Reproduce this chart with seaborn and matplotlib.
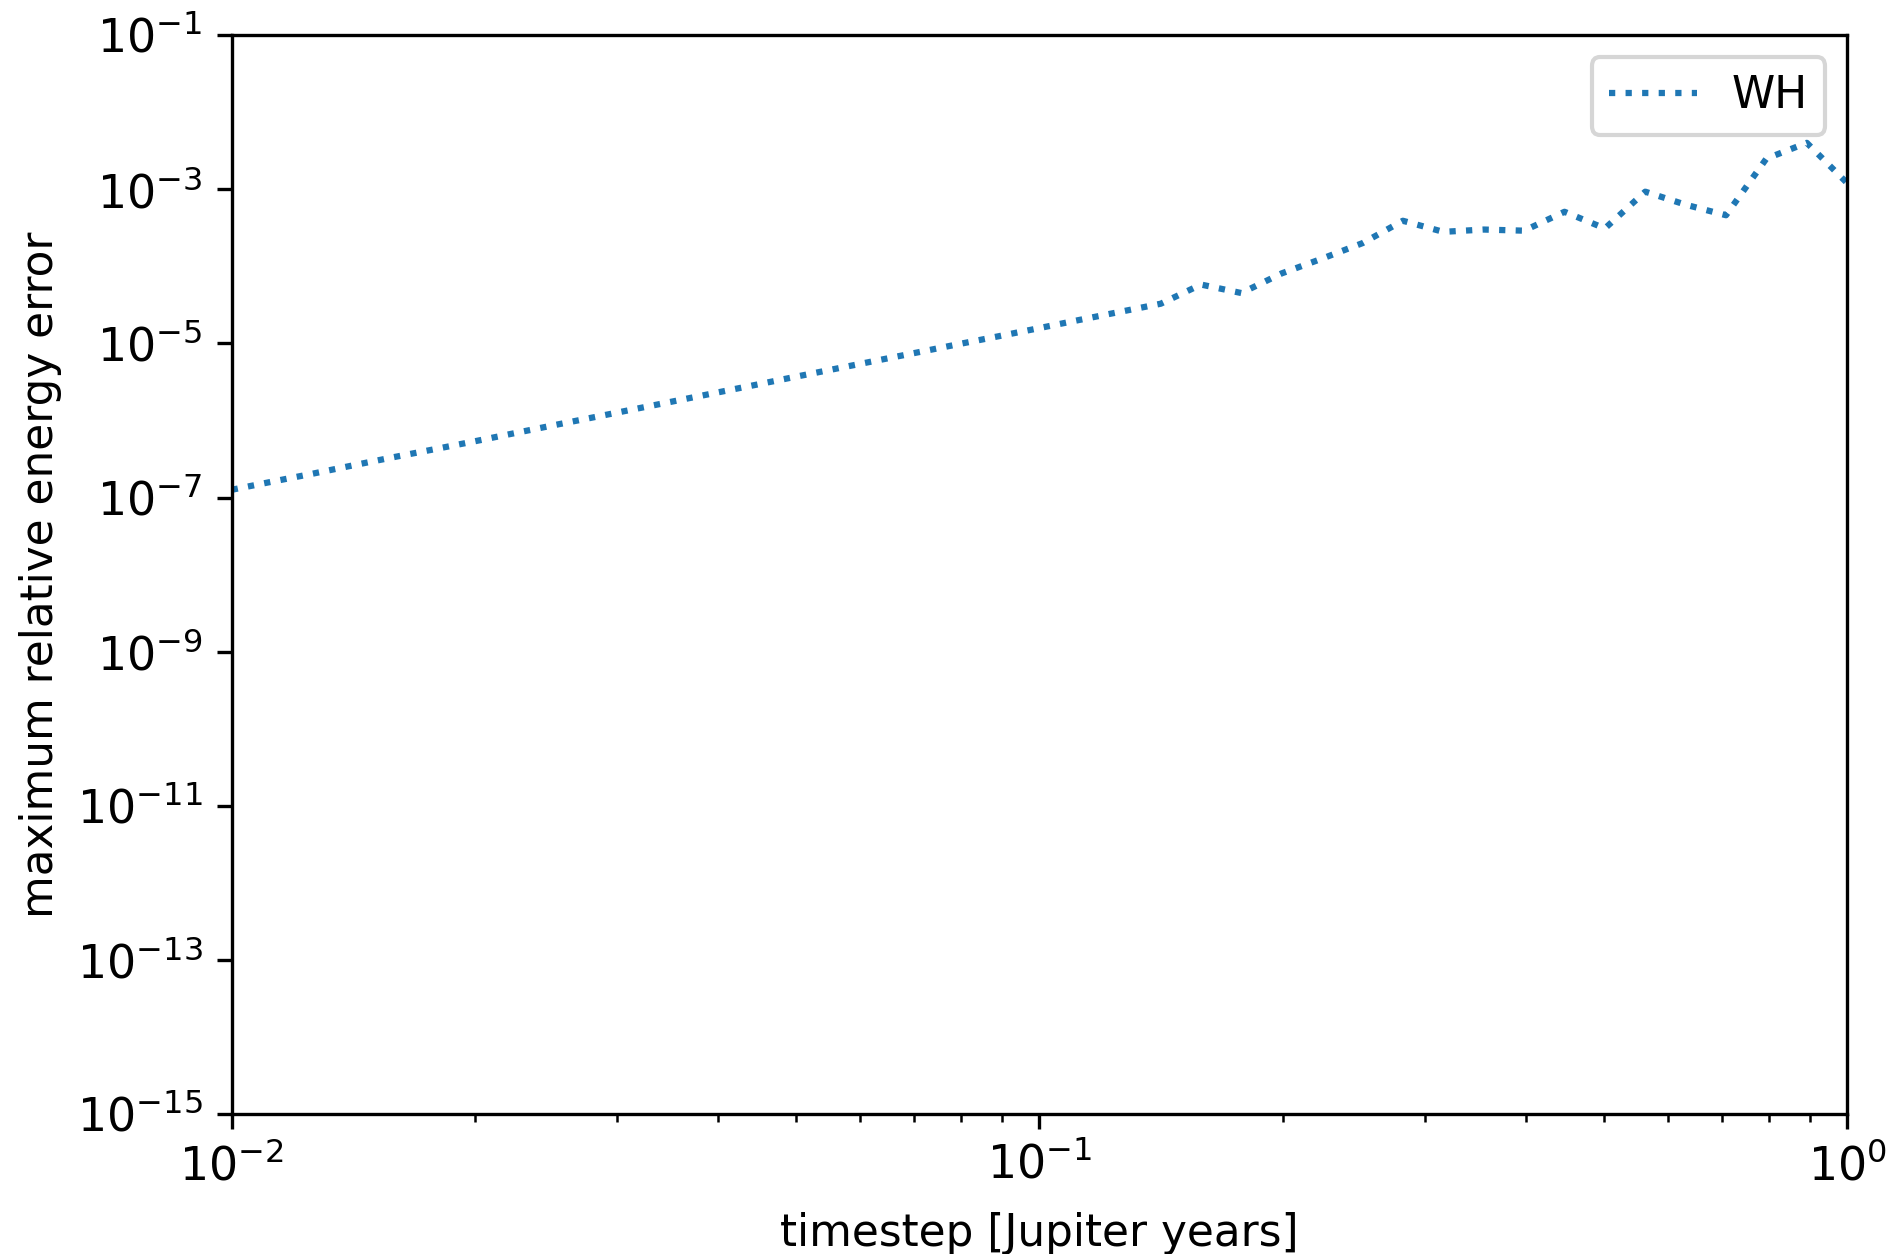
import matplotlib
matplotlib.use("Agg")
import matplotlib.pyplot as plt
import matplotlib.ticker as mticker
import seaborn as sns
import pandas as pd

# timestep values (Jupiter years)
timestep = [0.0100, 0.0112, 0.0126, 0.0141, 0.0158, 0.0178, 0.0200, 0.0224, 0.0251, 0.0282,
            0.0316, 0.0355, 0.0398, 0.0447, 0.0501, 0.0562, 0.0631, 0.0708, 0.0794, 0.0891,
            0.1000, 0.1122, 0.1259, 0.1413, 0.1585, 0.1778, 0.1995, 0.2239, 0.2512, 0.2818,
            0.3162, 0.3548, 0.3981, 0.4467, 0.5012, 0.5623, 0.6310, 0.7079, 0.7943, 0.8913,
            1.0000]

# maximum relative energy error for WH
wh_error = [1.26e-7, 1.60e-7, 2.04e-7, 2.60e-7, 3.31e-7, 4.22e-7, 5.37e-7, 6.84e-7, 8.71e-7, 1.11e-6,
            1.41e-6, 1.80e-6, 2.29e-6, 2.92e-6, 3.72e-6, 4.73e-6, 6.03e-6, 7.67e-6, 9.77e-6, 1.24e-5,
            1.58e-5, 2.02e-5, 2.57e-5, 3.27e-5, 5.8e-5, 4.5e-5, 8.1e-5, 1.26e-4, 2.0e-4, 3.9e-4,
            2.8e-4, 3.0e-4, 2.9e-4, 5.1e-4, 3.1e-4, 9.3e-4, 6.3e-4, 4.6e-4, 2.5e-3, 4.0e-3,
            1.2e-3]

series_label = "WH"
xlabel = "timestep [Jupiter years]"
ylabel = "maximum relative energy error"

plt.rcParams["font.size"] = 11

df = pd.DataFrame({"timestep": timestep, "error": wh_error})

fig = plt.figure(figsize=(1893 / 300, 1254 / 300), dpi=300)
ax = fig.add_axes([0.1224, 0.1116, 0.9758 - 0.1224, 0.972 - 0.1116])

sns.lineplot(data=df, x="timestep", y="error", ax=ax, label=series_label,
             color="#1f77b4", linestyle=":", linewidth=1.5)

ax.set_xscale("log")
ax.set_yscale("log")
ax.set_xlim(1e-2, 1e0)
ax.set_ylim(1e-15, 1e-1)
ax.yaxis.set_major_locator(mticker.FixedLocator([1e-15, 1e-13, 1e-11, 1e-9, 1e-7, 1e-5, 1e-3, 1e-1]))
ax.yaxis.set_minor_locator(mticker.NullLocator())
ax.yaxis.set_major_formatter(mticker.LogFormatterSciNotation())
ax.tick_params(labelsize=11)

ax.set_xlabel(xlabel, fontsize=10.5, labelpad=5.5)
ax.set_ylabel(ylabel, fontsize=10.5, labelpad=3.5)
ax.legend(loc="upper right", fontsize=10.5)

fig.savefig("out.png", dpi=300)
